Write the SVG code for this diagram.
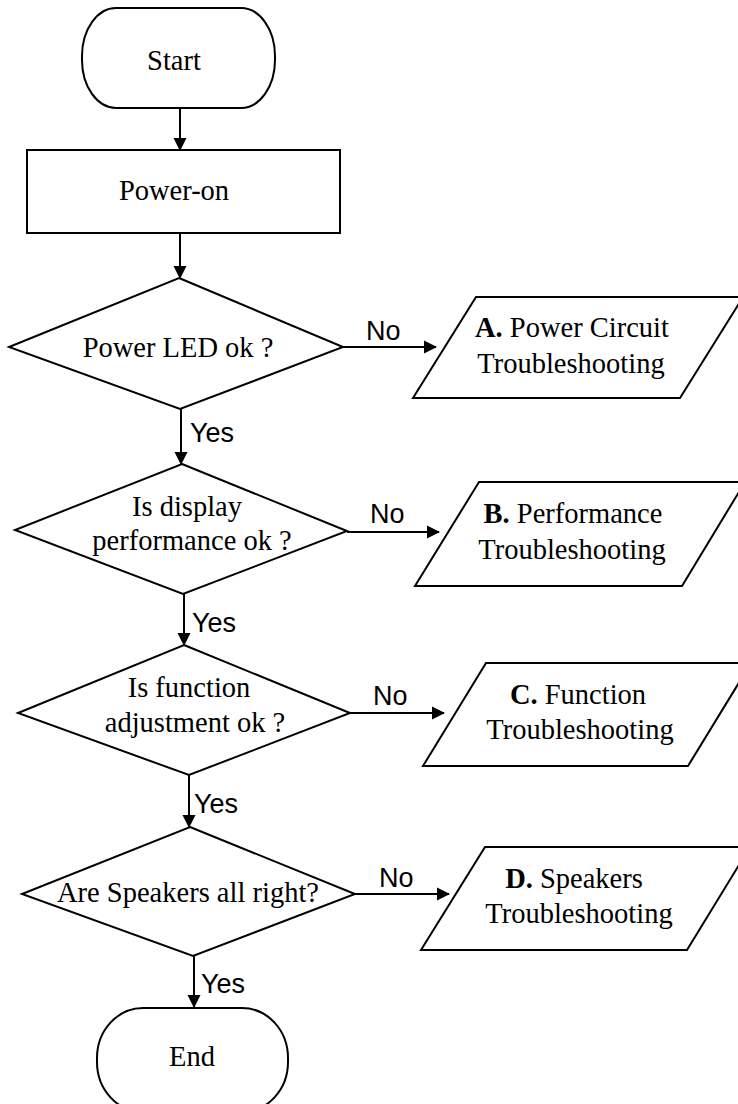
<svg xmlns="http://www.w3.org/2000/svg" width="738" height="1104" viewBox="0 0 738 1104">
<style>
.shape{fill:#fff;stroke:#000;stroke-width:2}
.t{font-family:"Liberation Serif","Times New Roman",serif;font-size:28.5px;fill:#000;text-anchor:middle}
.lbl{font-family:"Liberation Sans",Arial,sans-serif;font-size:27px;fill:#000}
.b{font-weight:bold}
.conn line{stroke:#000;stroke-width:2;marker-end:url(#ah)}
</style>
<defs>
<marker id="ah" markerUnits="userSpaceOnUse" markerWidth="14" markerHeight="14" viewBox="0 0 14 14" refX="12" refY="7" orient="auto">
<path d="M0,0.5 L13,7 L0,13.5 z" fill="#000"/>
</marker>
</defs>
<rect width="738" height="1104" fill="#fff"/>
<g id="connectors" class="conn">
<line x1="180" y1="108" x2="180" y2="150"/>
<line x1="180" y1="233" x2="180" y2="278"/>
<line x1="181" y1="409" x2="181" y2="464"/>
<line x1="184" y1="594" x2="184" y2="645"/>
<line x1="189" y1="775" x2="189" y2="827"/>
<line x1="194" y1="956" x2="194" y2="1007"/>
<line x1="343" y1="347" x2="436" y2="347"/>
<line x1="347" y1="532" x2="439" y2="532"/>
<line x1="350" y1="713" x2="444" y2="713"/>
<line x1="355" y1="894" x2="449" y2="894"/>
</g>
<g id="labels">
<text class="lbl" x="366" y="340">No</text>
<text class="lbl" x="370" y="523">No</text>
<text class="lbl" x="373" y="705">No</text>
<text class="lbl" x="379" y="887">No</text>
<text class="lbl" x="190" y="442">Yes</text>
<text class="lbl" x="192" y="632">Yes</text>
<text class="lbl" x="194" y="813">Yes</text>
<text class="lbl" x="201" y="993">Yes</text>
</g>
<g id="start">
<rect class="shape" x="82" y="8" width="193" height="100" rx="34" ry="48"/>
<text class="t" x="174" y="70">Start</text>
</g>
<g id="power-on">
<rect class="shape" x="27" y="150" width="313" height="83"/>
<text class="t" x="174" y="200">Power-on</text>
</g>
<g id="d1">
<polygon class="shape" points="179,278 343,347 180,409 9,347"/>
<text class="t" x="178" y="357">Power LED ok ?</text>
</g>
<g id="d2">
<polygon class="shape" points="182,464 347,531 183,594 15,530"/>
<text class="t" x="187" y="516">Is display</text>
<text class="t" x="192" y="550">performance ok ?</text>
</g>
<g id="d3">
<polygon class="shape" points="184,645 350,713 189,775 18,713"/>
<text class="t" x="189" y="697">Is function</text>
<text class="t" x="195" y="732">adjustment ok ?</text>
</g>
<g id="d4">
<polygon class="shape" points="190,827 355,894 193,956 22,894"/>
<text class="t" x="188" y="902">Are Speakers all right?</text>
</g>
<g id="end">
<rect class="shape" x="97" y="1008" width="191" height="104" rx="46" ry="50"/>
<text class="t" x="192" y="1066">End</text>
</g>
<g id="a">
<polygon class="shape" points="476,297 743,297 680,398 413,398"/>
<text class="t" x="572" y="337"><tspan class="b">A.</tspan> Power Circuit</text>
<text class="t" x="571" y="373">Troubleshooting</text>
</g>
<g id="b">
<polygon class="shape" points="479,482 745,482 682,586 415,586"/>
<text class="t" x="573" y="523"><tspan class="b">B.</tspan> Performance</text>
<text class="t" x="572" y="559">Troubleshooting</text>
</g>
<g id="c">
<polygon class="shape" points="486,663 751,663 688,766 423,766"/>
<text class="t" x="578" y="704"><tspan class="b">C.</tspan> Function</text>
<text class="t" x="580" y="739">Troubleshooting</text>
</g>
<g id="d">
<polygon class="shape" points="485,847 750,847 687,950 421,950"/>
<text class="t" x="574" y="888"><tspan class="b">D.</tspan> Speakers</text>
<text class="t" x="579" y="923">Troubleshooting</text>
</g>
</svg>
